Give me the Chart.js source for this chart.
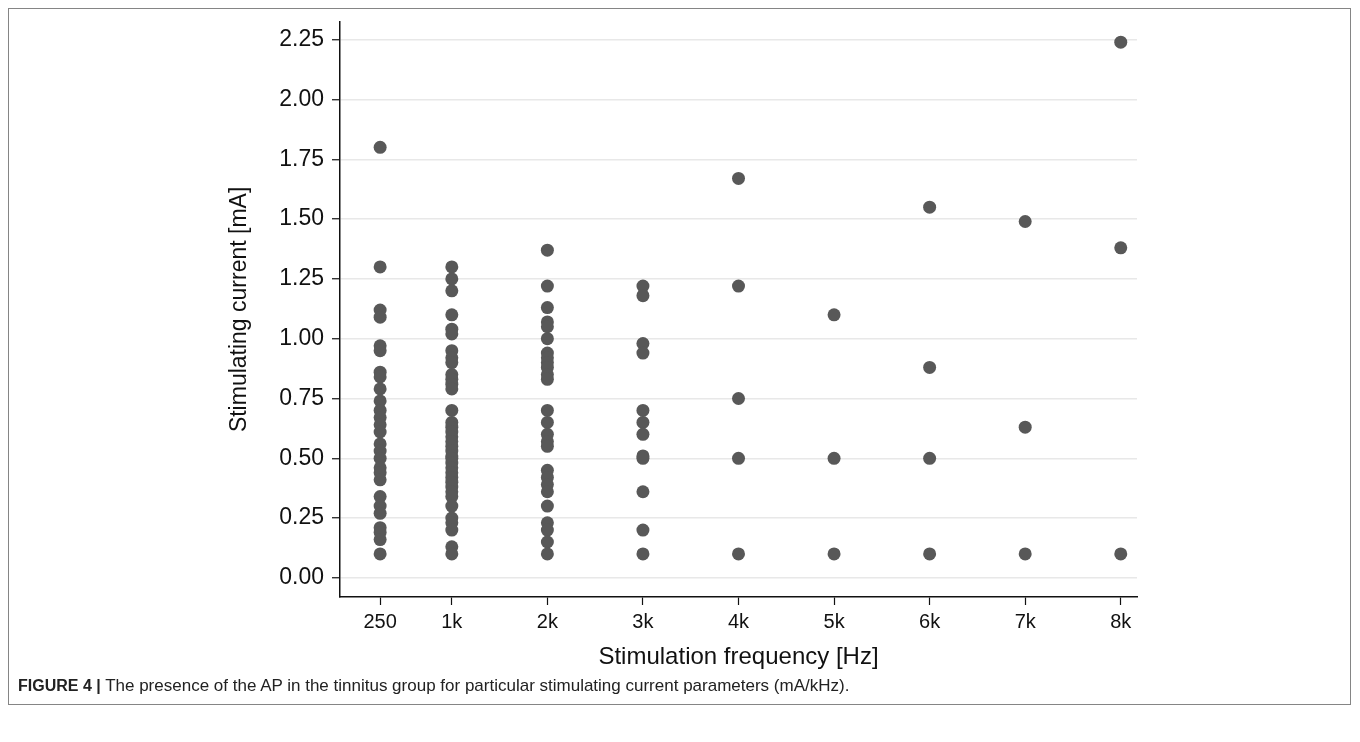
<!DOCTYPE html>
<html>
<head>
<meta charset="utf-8">
<script src="https://cdn.jsdelivr.net/npm/chart.js@4.4.1/dist/chart.umd.min.js"></script>
<style>
  html, body { margin: 0; padding: 0; background: #ffffff; }
  #wrap { position: relative; width: 1360px; height: 742px; overflow: hidden; }
  #frame { position: absolute; left: 8px; top: 8px; width: 1343px; height: 697px; border: 1px solid #858585; box-sizing: border-box; }
  #chart { position: absolute; left: 0; top: 0; }
  #caption { position: absolute; left: 18px; top: 676px; font-family: "Liberation Sans", Arial, sans-serif; font-size: 17px; color: #222; white-space: nowrap; }
  #caption b { font-weight: bold; font-size: 16px; }
</style>
</head>
<body>
<div id="wrap">
  <div id="frame"></div>
  <canvas id="chart" width="1360" height="742"></canvas>
  <div id="caption"><b>FIGURE 4 |</b> The presence of the AP in the tinnitus group for particular stimulating current parameters (mA/kHz).</div>
</div>
<script>
// Stimulation frequencies (kHz) and their tick labels
const freqs = [0.25, 1, 2, 3, 4, 5, 6, 7, 8];
const freqLabels = ['250', '1k', '2k', '3k', '4k', '5k', '6k', '7k', '8k'];
const yTicks = [0, 0.25, 0.5, 0.75, 1, 1.25, 1.5, 1.75, 2, 2.25];

// Stimulating current values (mA) at each frequency
const c250 = [1.80, 1.30, 1.12, 1.09, 0.97, 0.95, 0.86, 0.84, 0.79, 0.74, 0.70, 0.67, 0.64, 0.61, 0.56, 0.53, 0.50, 0.46, 0.44, 0.41, 0.34, 0.30, 0.27, 0.21, 0.19, 0.16, 0.10];
const c1k = [1.30, 1.25, 1.20, 1.10, 1.04, 1.02, 0.95, 0.92, 0.90, 0.85, 0.83, 0.81, 0.79, 0.70, 0.65, 0.63, 0.61, 0.59, 0.57, 0.55, 0.53, 0.51, 0.50, 0.48, 0.46, 0.44, 0.42, 0.40, 0.38, 0.36, 0.34, 0.30, 0.25, 0.23, 0.20, 0.13, 0.10];
const c2k = [1.37, 1.22, 1.13, 1.07, 1.05, 1.00, 0.94, 0.92, 0.90, 0.88, 0.85, 0.83, 0.70, 0.65, 0.60, 0.57, 0.55, 0.45, 0.42, 0.39, 0.36, 0.30, 0.23, 0.20, 0.15, 0.10];
const c3k = [1.22, 1.18, 0.98, 0.94, 0.70, 0.65, 0.60, 0.51, 0.50, 0.36, 0.20, 0.10];
const c4k = [1.67, 1.22, 0.75, 0.50, 0.10];
const c5k = [1.10, 0.50, 0.10];
const c6k = [1.55, 0.88, 0.50, 0.10];
const c7k = [1.49, 0.63, 0.10];
const c8k = [2.24, 1.38, 0.10];

const columns = [c250, c1k, c2k, c3k, c4k, c5k, c6k, c7k, c8k];
const points = [];
columns.forEach((col, i) => col.forEach(v => points.push({ x: freqs[i], y: v })));

const FONT = '"Liberation Sans", Arial, sans-serif';

new Chart(document.getElementById('chart'), {
  type: 'scatter',
  data: {
    datasets: [{
      data: points,
      pointRadius: 6.5,
      pointHoverRadius: 6.5,
      pointBackgroundColor: '#585858',
      pointBorderColor: '#585858',
      pointBorderWidth: 0
    }]
  },
  options: {
    responsive: false,
    animation: false,
    events: [],
    layout: { padding: { left: 226, top: 20, right: 223, bottom: 70 } },
    plugins: { legend: { display: false }, tooltip: { enabled: false } },
    scales: {
      x: {
        type: 'linear',
        min: -0.17,
        max: 8.17,
        afterFit: s => { s.height = 75; },
        afterBuildTicks: s => { s.ticks = freqs.map(v => ({ value: v })); },
        ticks: {
          autoSkip: false,
          maxRotation: 0,
          padding: 5,
          color: '#111',
          font: { family: FONT, size: 20 },
          callback: (v) => { const i = freqs.indexOf(v); return i >= 0 ? freqLabels[i] : ''; }
        },
        grid: { drawOnChartArea: false, drawTicks: true, tickLength: 8, tickColor: '#111', tickWidth: 1.2 },
        border: { display: true, color: '#111', width: 1.5 },
        title: { display: true, text: 'Stimulation frequency [Hz]', color: '#111', font: { family: FONT, size: 24 }, padding: 0 }
      },
      y: {
        type: 'linear',
        min: -0.08,
        max: 2.325,
        afterFit: s => { s.width = 114; },
        afterBuildTicks: s => { s.ticks = yTicks.map(v => ({ value: v })); },
        ticks: {
          padding: 8,
          color: '#111',
          font: { family: FONT, size: 23 },
          callback: v => Number(v).toFixed(2)
        },
        grid: { drawOnChartArea: true, color: '#e8e8e8', lineWidth: 1.5, drawTicks: true, tickLength: 8, tickColor: '#111', tickWidth: 1.2 },
        border: { display: true, color: '#111', width: 1.5 },
        title: { display: true, text: 'Stimulating current [mA]', color: '#111', font: { family: FONT, size: 23 }, padding: 0 }
      }
    }
  }
});
</script>
</body>
</html>
